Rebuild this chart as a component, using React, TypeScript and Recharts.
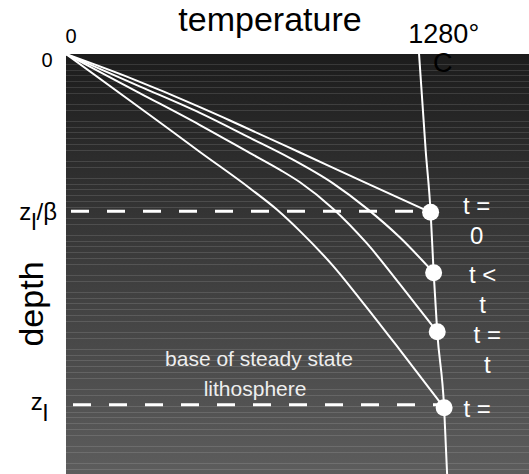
import { ComposedChart, Line, XAxis, YAxis, ReferenceArea, ReferenceLine } from "recharts";

// temperature (°C) / depth (km)
const TEMP_DOMAIN = [0, 1680];
const DEPTH_DOMAIN = [0, 150];
const TEMP_TICKS = [0, 1280];
const Z_L_BETA = 56;
const Z_L = 125;
const DEPTH_TICKS = [0, Z_L_BETA, Z_L];

const T0_TEMP = [0, 232, 486, 595, 849, 1092, 1323];
const T0_DEPTH = [0, 8.5, 18.9, 23.7, 35.1, 46.1, 56.4];

const T1_TEMP = [0, 269, 486, 668, 813, 969, 1092, 1212, 1334];
const T1_DEPTH = [0, 11.6, 21.0, 29.9, 37.1, 46.1, 55.1, 65.4, 77.9];

const T2_TEMP = [0, 269, 486, 668, 777, 849, 969, 1092, 1212, 1347];
const T2_DEPTH = [0, 14.0, 25.3, 35.3, 41.3, 45.7, 55.1, 67.5, 82.1, 99];

const T3_TEMP = [0, 305, 486, 668, 766, 849, 969, 1067, 1212, 1372];
const T3_DEPTH = [0, 21.8, 34.9, 47.9, 55.5, 63.1, 75.5, 87.3, 105.5, 126];

const ADIABAT_TEMP = [1281, 1305, 1323, 1334, 1347, 1372, 1383];
const ADIABAT_DEPTH = [0, 34.2, 56.4, 77.9, 99, 126, 150];

const DOT_TEMP = [1323, 1334, 1347, 1372];
const DOT_DEPTH = [56.4, 77.9, 99, 126];
const DOT_LABELS = [["t =", "0"], ["t <", "t"], ["t =", "t"], ["t ="]];

// label layout (px offsets from each dot)
const DOT_LABEL_DX = [46, 49, 50, 33];
const DOT_LABEL_DY = [-6, 2, 3, 1];

const FONT = "'Liberation Sans', Arial, Helvetica, sans-serif";
const PLOT_TOP = 54;

const toPoints = (temps: number[], depths: number[]) =>
  temps.map((t, i) => ({ T: t, z: depths[i] }));

const curves = [
  toPoints(T0_TEMP, T0_DEPTH),
  toPoints(T1_TEMP, T1_DEPTH),
  toPoints(T2_TEMP, T2_DEPTH),
  toPoints(T3_TEMP, T3_DEPTH),
];
const adiabat = toPoints(ADIABAT_TEMP, ADIABAT_DEPTH);
const dots = toPoints(DOT_TEMP, DOT_DEPTH);

const STRIPES = [0, 6, 11, 17, 23, 29, 40, 46];

function PlotBackground(props: any) {
  const { x, y, width, height } = props;
  return (
    <g>
      <defs>
        <linearGradient id="bgFade" x1="0" y1="0" x2="0" y2="1">
          <stop offset="0" stopColor="#1c1c1c" />
          <stop offset="1" stopColor="#5d5d5d" />
        </linearGradient>
        <pattern id="bgStripes" patternUnits="userSpaceOnUse" x={0} y={y + 10} width={10} height={57}>
          {STRIPES.map((s) => (
            <rect key={s} x={0} y={s} width={10} height={1} fill="#fff" fillOpacity={0.12} />
          ))}
        </pattern>
      </defs>
      <rect x={x} y={y} width={width} height={height} fill="url(#bgFade)" />
      <rect x={x} y={y} width={width} height={height} fill="url(#bgStripes)" />
    </g>
  );
}

function TempTick(props: any) {
  const { x, payload } = props;
  if (payload.value === 0) {
    return (
      <text x={x + 5} y={PLOT_TOP - 11} textAnchor="middle" fontSize={20} fill="#000">
        0
      </text>
    );
  }
  return (
    <g>
      <text x={x + 25} y={PLOT_TOP - 11} textAnchor="middle" fontSize={27} fill="#000">
        {`${payload.value}°`}
      </text>
      <text x={x + 24} y={PLOT_TOP + 18} textAnchor="middle" fontSize={27} fill="#000">
        C
      </text>
    </g>
  );
}

function DepthTick(props: any) {
  const { y, payload } = props;
  if (payload.value === 0) {
    return (
      <text x={47} y={y + 13} textAnchor="middle" fontSize={20} fill="#000">
        0
      </text>
    );
  }
  if (payload.value === Z_L_BETA) {
    return (
      <text x={57} y={y + 9} textAnchor="end" fontSize={24} fill="#000">
        z<tspan dy={10}>l</tspan>
        <tspan dy={-10}>/β</tspan>
      </text>
    );
  }
  return (
    <text x={48} y={y + 5} textAnchor="end" fontSize={24} fill="#000">
      z<tspan dy={11}>l</tspan>
    </text>
  );
}

const renderTitle = (props: any) => {
  const vb = props.viewBox;
  return (
    <text x={vb.x + 204} y={31} textAnchor="middle" fontSize={34} fill="#000">
      temperature
    </text>
  );
};

const renderDepthTitle = () => (
  <text x={43} y={304} transform="rotate(-90 43 304)" textAnchor="middle" fontSize={34} fill="#000">
    depth
  </text>
);

const renderBaseLabel = (props: any) => {
  const vb = props.viewBox;
  const cx = vb.x + vb.width / 2;
  return (
    <text textAnchor="middle" fontSize={21} fill="#eeeeee">
      <tspan x={cx + 4} y={vb.y - 39}>base of steady state</tspan>
      <tspan x={cx} y={vb.y - 9}>lithosphere</tspan>
    </text>
  );
};

const renderDot = (props: any) => {
  const { cx, cy, index } = props;
  const lines = DOT_LABELS[index] || [];
  const lx = cx + DOT_LABEL_DX[index];
  return (
    <g key={`dot-${index}`}>
      <circle cx={cx} cy={cy} r={8.5} fill="#fff" />
      <text textAnchor="middle" fontSize={24} fill="#fff">
        {lines.map((l, i) => (
          <tspan key={i} x={lx} y={cy + DOT_LABEL_DY[index] + 8 + i * 30}>
            {l}
          </tspan>
        ))}
      </text>
    </g>
  );
};

export default function App() {
  return (
    <div
      style={{
        position: "absolute",
        left: 0,
        top: 0,
        width: 529,
        height: 474,
        overflow: "hidden",
        background: "#fff",
        fontFamily: FONT,
      }}
    >
      <ComposedChart width={529} height={475} margin={{ top: 0, right: 0, bottom: 0, left: 0 }}>
        <XAxis
          type="number"
          dataKey="T"
          orientation="top"
          domain={TEMP_DOMAIN}
          allowDataOverflow
          ticks={TEMP_TICKS}
          interval={0}
          tick={TempTick}
          axisLine={false}
          tickLine={false}
          height={PLOT_TOP}
          label={renderTitle}
        />
        <YAxis
          type="number"
          dataKey="z"
          domain={DEPTH_DOMAIN}
          reversed
          allowDataOverflow
          ticks={DEPTH_TICKS}
          interval={0}
          tick={DepthTick}
          axisLine={false}
          tickLine={false}
          width={66}
          label={renderDepthTitle}
        />
        <ReferenceArea
          x1={TEMP_DOMAIN[0]}
          x2={TEMP_DOMAIN[1]}
          y1={DEPTH_DOMAIN[0]}
          y2={DEPTH_DOMAIN[1]}
          shape={PlotBackground}
        />
        <ReferenceLine
          segment={[
            { x: 0, y: Z_L_BETA },
            { x: DOT_TEMP[0], y: Z_L_BETA },
          ]}
          stroke="#fff"
          strokeWidth={3}
          strokeDasharray="18 18"
          strokeDashoffset={-5}
        />
        <ReferenceLine
          segment={[
            { x: 0, y: Z_L },
            { x: DOT_TEMP[3], y: Z_L },
          ]}
          stroke="#fff"
          strokeWidth={3}
          strokeDasharray="18 18"
          strokeDashoffset={-7}
          label={renderBaseLabel}
        />
        {curves.map((c, i) => (
          <Line
            key={`geotherm-${i}`}
            data={c}
            dataKey="z"
            type="monotone"
            stroke="#fff"
            strokeWidth={2}
            dot={false}
            activeDot={false}
            isAnimationActive={false}
          />
        ))}
        <Line
          data={adiabat}
          dataKey="z"
          type="monotone"
          stroke="#fff"
          strokeWidth={2}
          dot={false}
          activeDot={false}
          isAnimationActive={false}
        />
        <Line
          data={dots}
          dataKey="z"
          stroke="none"
          dot={renderDot}
          activeDot={false}
          isAnimationActive={false}
        />
      </ComposedChart>
    </div>
  );
}
